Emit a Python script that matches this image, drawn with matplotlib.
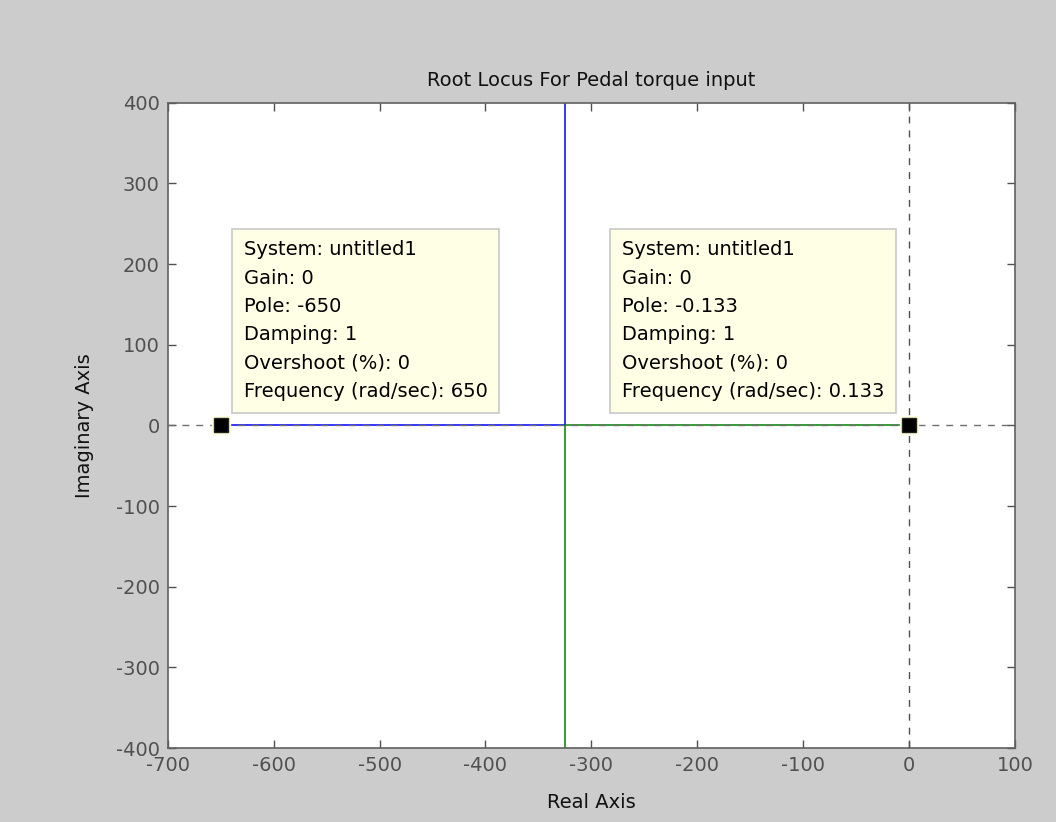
import matplotlib
matplotlib.use("Agg")
import matplotlib.pyplot as plt

# open-loop poles and breakaway point
poles = [-650, -0.133]
breakaway = -325

# locus branches (real, imag)
blue_re = [-650, -325, -325]
blue_im = [0, 0, 450]
green_re = [-0.133, -325, -325]
green_im = [0, 0, -450]

xticks = list(range(-700, 101, 100))
yticks = list(range(-400, 401, 100))

tips = [
    "System: untitled1\nGain: 0\nPole: -650\nDamping: 1\nOvershoot (%): 0\nFrequency (rad/sec): 650",
    "System: untitled1\nGain: 0\nPole: -0.133\nDamping: 1\nOvershoot (%): 0\nFrequency (rad/sec): 0.133",
]
tip_offsets = [(23, 185), (-287, 185)]

plt.rcParams['font.family'] = ['DejaVu Sans']
plt.rcParams['axes.unicode_minus'] = False

fig = plt.figure(figsize=(10.56, 8.22), dpi=100, facecolor='#cccccc')
ax = fig.add_axes([0.159, 0.090, 0.802, 0.785])
ax.set_facecolor('white')

# branches
ax.plot(blue_re, blue_im, color='#0000ff', lw=1.1, zorder=2)
ax.plot(green_re, green_im, color='#008000', lw=1.1, zorder=2)

# axis lines through origin
ax.axhline(0, color='#707070', lw=1.0, dashes=(5, 5), zorder=3)
ax.axvline(0, color='#505050', lw=1.0, dashes=(5, 5), zorder=3)

# pole datatip markers
for p in poles:
    ax.plot(p, 0, 's', ms=13, mfc='#ffffe0', mec='#ffffe0', zorder=4)
    ax.plot(p, 0, 's', ms=9.5, mfc='black', mec='#222222', zorder=5)

for p, txt, off in zip(poles, tips, tip_offsets):
    ax.annotate(txt, xy=(p, 0), xytext=off, textcoords='offset pixels',
                ha='left', va='top', fontsize=14, linespacing=1.62, color='black',
                bbox=dict(boxstyle='square,pad=0.6', fc='#ffffe5', ec='#c8c8c8', lw=1.2),
                zorder=6)

ax.set_xlim(-700, 100)
ax.set_ylim(-400, 400)
ax.set_xticks(xticks)
ax.set_yticks(yticks)
ax.tick_params(direction='in', length=6, width=1, color='#505050', labelcolor='#505050',
               labelsize=14, top=True, right=True, pad=6)
for s in ax.spines.values():
    s.set_color('#606060')
    s.set_linewidth(1.2)

ax.set_title('Root Locus For Pedal torque input', fontsize=14, pad=12, color='#111111')
ax.set_xlabel('Real Axis', fontsize=14, va='center', color='#111111')
ax.set_ylabel('Imaginary Axis', fontsize=14, va='center', color='#111111')
ax.xaxis.set_label_coords(0.5, -0.085)
ax.yaxis.set_label_coords(-0.098, 0.5)

fig.savefig('out.png', dpi=100, facecolor=fig.get_facecolor())
